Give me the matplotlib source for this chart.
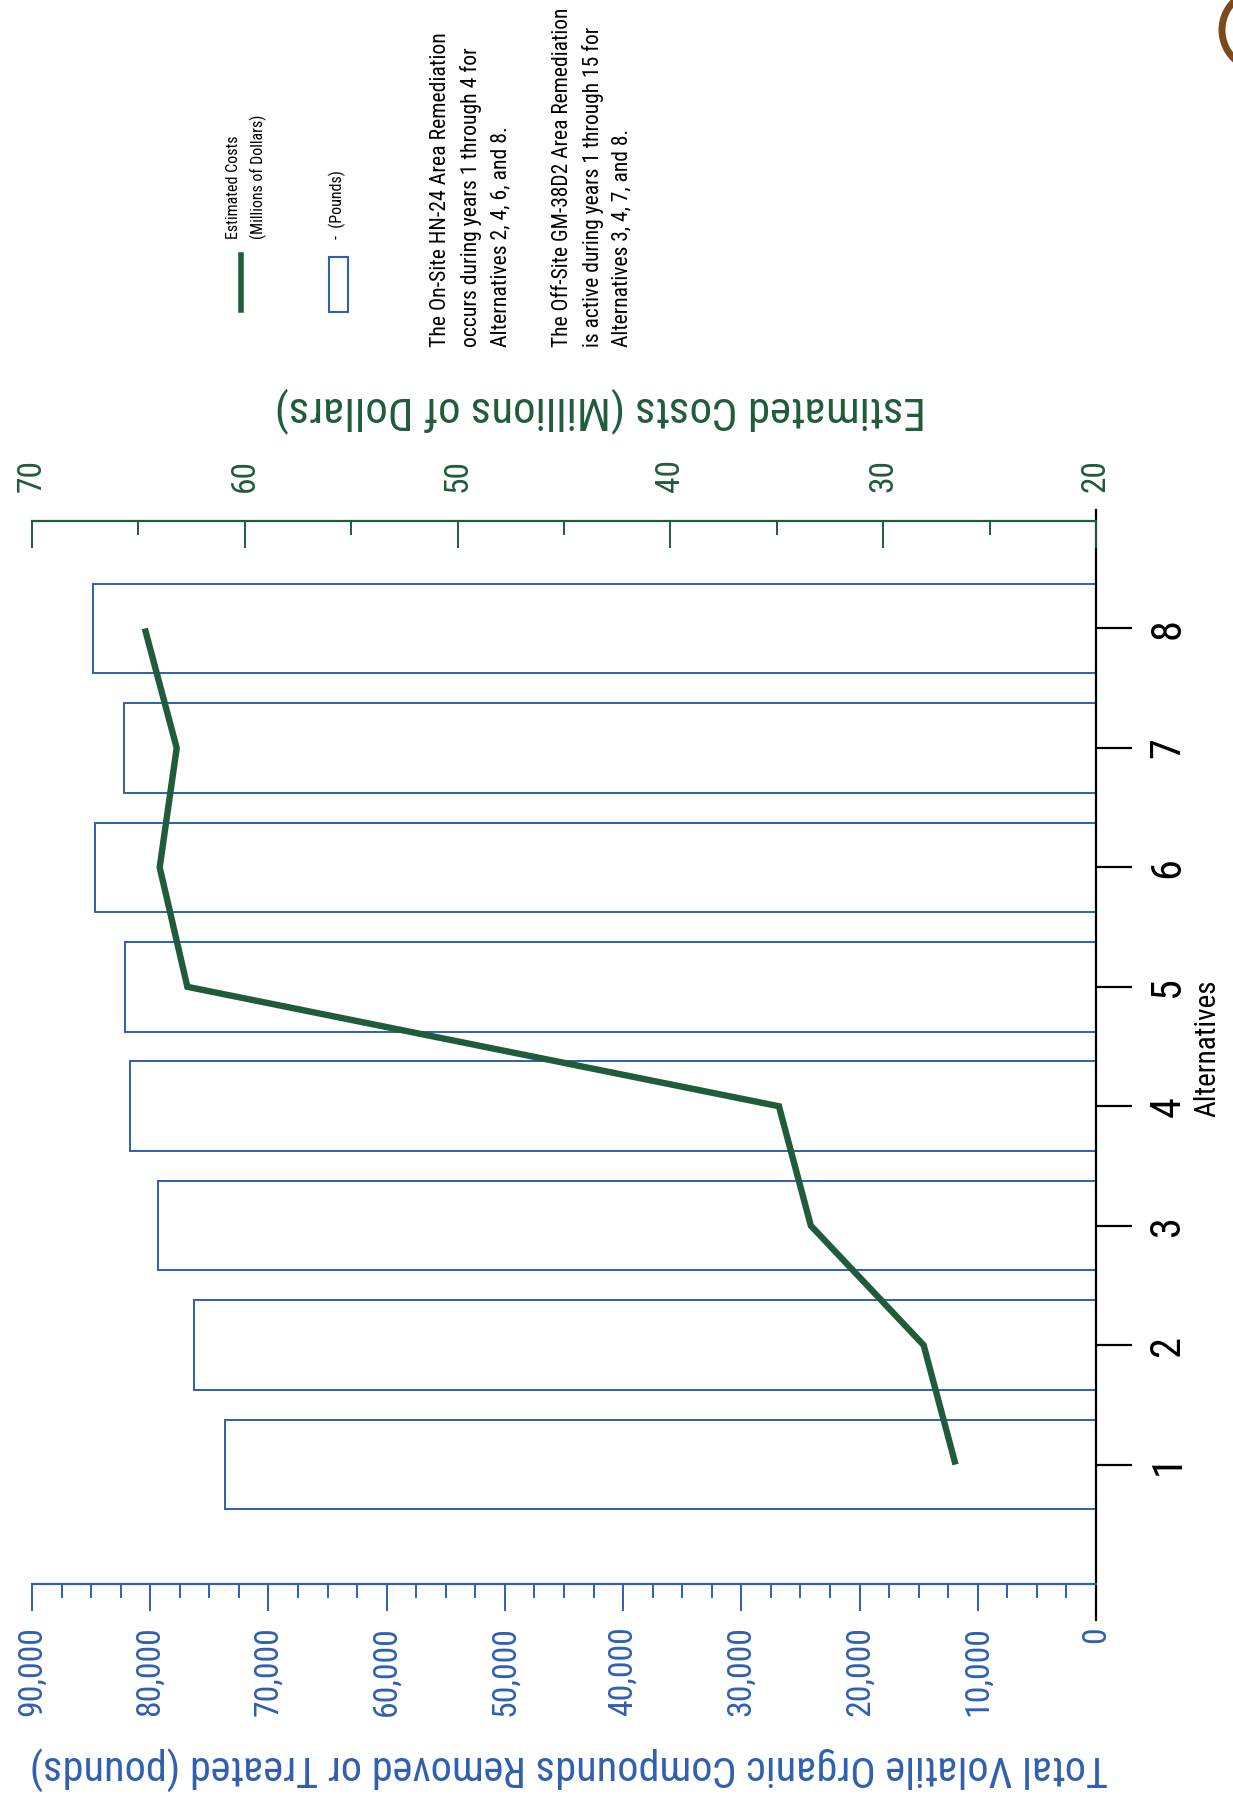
import matplotlib
matplotlib.use("Agg")
import matplotlib.pyplot as plt
from matplotlib import font_manager
from matplotlib.lines import Line2D
from matplotlib.patches import Rectangle, Arc
from matplotlib.ticker import MultipleLocator, FuncFormatter

# datos
alternatives = [1, 2, 3, 4, 5, 6, 7, 8]
pounds_removed = [73700, 76300, 79300, 81700, 82100, 84700, 82200, 84800]
est_costs = [26.6, 28.1, 33.4, 34.9, 62.7, 64.0, 63.2, 64.7]

note_onsite = ("The On-Site HN-24 Area Remediation\n"
               "occurs during years 1 through 4 for\n"
               "Alternatives 2, 4, 6, and 8.")
note_offsite = ("The Off-Site GM-38D2 Area Remediation\n"
                "is active during years 1 through 15 for\n"
                "Alternatives 3, 4, 7, and 8.")

BLUE = "#2f5fb3"
GREEN = "#1f5c3a"


# busca una fuente estrecha parecida a la del original
def pick_font():
    prefer = ["Liberation Sans Narrow", "Arial Narrow", "Roboto Condensed",
              "Open Sans Condensed", "Noto Sans Condensed"]
    found = []
    for f in font_manager.fontManager.ttflist:
        if f.style != "normal" or f.weight not in (400, "normal", "regular"):
            continue
        st = str(f.stretch)
        if ("Narrow" in f.name or "Condensed" in f.name
                or st in ("condensed", "semi-condensed")):
            found.append((f.name, st))
    for p in prefer:
        for name, st in found:
            if name == p:
                return name, st
    for name, st in found:
        if name in ("DejaVu Sans", "Roboto", "Noto Sans", "Open Sans"):
            return name, st
    return "Liberation Sans", "normal"


fam, stretch = pick_font()
plt.rcParams['font.family'] = [fam, 'DejaVu Sans']
plt.rcParams['font.stretch'] = stretch

W, H = 1233, 1796
fig = plt.figure(figsize=(W / 100, H / 100), dpi=100)
renderer = fig.canvas.get_renderer()


def fx(px):
    return px / W


def fy(py):
    return 1 - py / H


def fit_size(s, target_px):
    # tamaño de letra para que el texto mida target_px de largo
    t = fig.text(0, 0, s, fontsize=20)
    w = t.get_window_extent(renderer).width
    t.remove()
    return 20 * target_px / w


ax = fig.add_axes([fx(32), fy(1584), fx(1096) - fx(32), fy(521) - fy(1584)])
ax.patch.set_alpha(0)

ax.barh(alternatives, pounds_removed, height=0.75, color="white",
        edgecolor=BLUE, linewidth=1.4, zorder=2)
ax.set_xlim(90000, 0)
ax.set_ylim(0, 8.9)

# eje de libras (abajo)
ax.xaxis.set_major_locator(MultipleLocator(10000))
ax.xaxis.set_minor_locator(MultipleLocator(2500))
ax.xaxis.set_major_formatter(FuncFormatter(lambda v, p: f"{int(v):,}"))
ax.tick_params(axis="x", which="major", direction="out", length=19.5, width=1.4,
               color=BLUE, labelcolor=BLUE, labelsize=fit_size("90,000", 90),
               labelrotation=90, pad=11)
ax.tick_params(axis="x", which="minor", direction="out", length=10, width=1.4, color=BLUE)

# eje de alternativas (derecha)
ax.yaxis.tick_right()
ax.set_yticks(alternatives)
ax.tick_params(axis="y", direction="out", length=26, width=1.6, color="black",
               labelsize=fit_size("8", 21), pad=11)
for lbl in ax.get_yticklabels():
    lbl.set_rotation(90)
    lbl.set_va("center")

for s in ["left", "top"]:
    ax.spines[s].set_visible(False)
ax.spines["bottom"].set_color(BLUE)
ax.spines["bottom"].set_linewidth(1.6)
ax.spines["right"].set_color("black")
ax.spines["right"].set_linewidth(1.6)
ax.spines["right"].set_bounds(-0.3, 8.99)

# eje de costes (arriba)
ax2 = ax.twiny()
ax2.patch.set_alpha(0)
ax2.plot(est_costs, alternatives, color=GREEN, linewidth=4.6, solid_capstyle="butt",
         solid_joinstyle="miter", zorder=3)
ax2.set_xlim(70, 20)
ax2.xaxis.set_major_locator(MultipleLocator(10))
ax2.xaxis.set_minor_locator(MultipleLocator(5))
ax2.tick_params(axis="x", which="major", direction="in", length=19.5, width=1.4,
                color=GREEN, labelcolor=GREEN, labelsize=fit_size("70", 33),
                labelrotation=90, pad=21)
ax2.tick_params(axis="x", which="minor", direction="in", length=10, width=1.4, color=GREEN)
for s in ["left", "right", "bottom"]:
    ax2.spines[s].set_visible(False)
ax2.spines["top"].set_color(GREEN)
ax2.spines["top"].set_linewidth(1.6)

# titulos de ejes (el grafico original esta girado)
t_pounds = "Total Volatile Organic Compounds Removed or Treated (pounds)"
fig.text(fx(569), fy(1768), t_pounds, rotation=180, ha="center", va="center",
         fontsize=fit_size(t_pounds, 1075), color=BLUE)
t_cost = "Estimated Costs (Millions of Dollars)"
fig.text(fx(600), fy(409), t_cost, rotation=180, ha="center", va="center",
         fontsize=fit_size(t_cost, 650), color=GREEN)
fig.text(fx(1207), fy(1048), "Alternatives", rotation=90, ha="center", va="center",
         fontsize=fit_size("Alternatives", 137), color="black")

# leyenda
fig.add_artist(Line2D([fx(241), fx(241)], [fy(310), fy(255)], color=GREEN, linewidth=4))
fig.add_artist(Rectangle((fx(329), fy(312)), fx(348) - fx(329), fy(257) - fy(312),
                         facecolor="white", edgecolor=BLUE, linewidth=1.5))
leg_txt = "Estimated Costs\n(Millions of Dollars)"
leg_fs = fit_size(leg_txt, 125)
fig.text(fx(226), fy(239), leg_txt, rotation=90, rotation_mode="anchor",
         ha="left", va="top", fontsize=leg_fs,
         linespacing=28 / (leg_fs * 100 / 72 * 1.05))
fig.text(fx(329), fy(239), "-  (Pounds)", rotation=90,
         rotation_mode="anchor", ha="left", va="top", fontsize=leg_fs)

# notas
fs1 = fit_size(note_onsite, 314)
fig.text(fx(430), fy(347), note_onsite, rotation=90, rotation_mode="anchor",
         ha="left", va="top", fontsize=fs1,
         linespacing=35 / (fs1 * 100 / 72 * 1.05))
fs2 = fit_size(note_offsite, 340)
fig.text(fx(552), fy(347), note_offsite, rotation=90, rotation_mode="anchor",
         ha="left", va="top", fontsize=fs2,
         linespacing=34 / (fs2 * 100 / 72 * 1.05))

# trozo del logo en la esquina
fig.add_artist(Arc((fx(1262), fy(30)), fx(80), 80 / H, theta1=90, theta2=270,
                   color="#7a4a1e", linewidth=5))

fig.savefig("out.png", dpi=100)
